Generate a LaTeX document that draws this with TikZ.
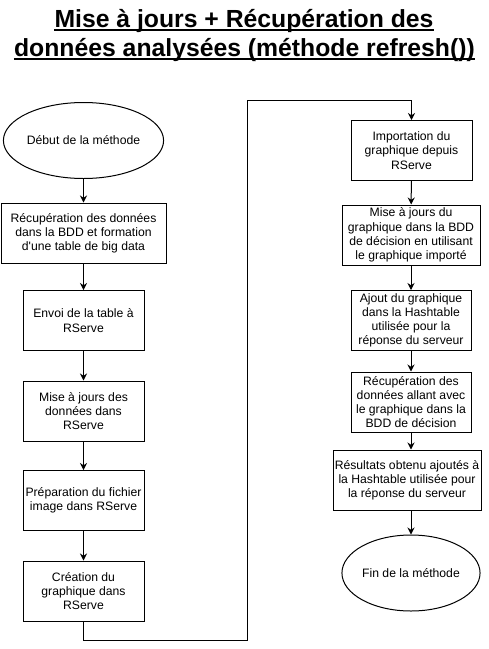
\documentclass[tikz,border=0pt]{standalone}
\usepackage{fontspec}
\setmainfont{Liberation Sans}
\usetikzlibrary{arrows.meta,shapes.geometric}
\begin{document}
\begin{tikzpicture}[x=1pt,y=-1pt,
  box/.style={draw,line width=1pt,minimum width=#1,minimum height=60pt,inner sep=1pt,align=center,font=\fontsize{12.2}{14.2}\selectfont},
  oval/.style={draw,line width=1pt,ellipse,minimum width=121pt,minimum height=76pt,inner sep=0pt,align=center,font=\fontsize{12.2}{14.2}\selectfont},
  flow/.style={draw,line width=1pt,-{Stealth[length=7pt,width=7pt]}},
  titletext/.style={inner sep=0pt,anchor=base,font=\fontsize{24.75}{30}\selectfont\bfseries},
  uline/.style={line width=2pt}]
\fill[white] (0,0) rectangle (489,649);
\useasboundingbox (0,0) rectangle (489,649);
% title
\node[titletext] (t1) at (244,27) {Mise à jours + Récupération des};
\node[titletext] (t2) at (244.5,56) {données analysées (méthode refresh())};
\draw[uline] ([yshift=-3pt]t1.base west) -- ([yshift=-3pt]t1.base east);
\draw[uline] ([yshift=-3pt]t2.base west) -- ([yshift=-3pt]t2.base east);
% left column
\node[oval] (start) at (83.5,140.5) {Début de la méthode};
\node[box=165pt] (b1) at (83.5,233) {Récupération des données\\dans la BDD et formation\\d\textquotesingle une table de big data};
\node[box=121pt] (b2) at (83.5,320.5) {Envoi de la table à\\RServe};
\node[box=121pt] (b3) at (83.5,411) {Mise à jours des\\données dans\\RServe};
\node[box=121pt] (b4) at (83.5,500.5) {Préparation du fichier\\image dans RServe};
\node[box=121pt] (b5) at (83.5,591) {Création du\\graphique dans\\RServe};
% right column
\node[box=121pt] (b6) at (411.5,150.5) {Importation du\\graphique depuis\\RServe};
\node[box=138pt] (b7) at (411,235) {Mise à jours du\\graphique dans la BDD\\de décision en utilisant\\le graphique importé};
\node[box=120pt] (b8) at (411,320.5) {Ajout du graphique\\dans la Hashtable\\utilisée pour la\\réponse du serveur};
\node[box=120pt] (b9) at (411,402) {Récupération des\\données allant avec\\le graphique dans la\\BDD de décision};
\node[box=148pt] (b10) at (407,480) {Résultats obtenu ajoutés à\\la Hashtable utilisée pour\\la réponse du serveur};
\node[oval] (end) at (411,573) {Fin de la méthode};
% connectors
\coordinate (c1) at (247,640);
\coordinate (c2) at (247,100);
\draw[flow] (start) -- (b1);
\draw[flow] (b1) -- (b2);
\draw[flow] (b2) -- (b3);
\draw[flow] (b3) -- (b4);
\draw[flow] (b4) -- (b5);
\draw[flow] (b5.south) |- (c1) -- (c2) -| (b6.north);
\draw[flow] (b6) -- (b7);
\draw[flow] (b7) -- (b8);
\draw[flow] (b8) -- (b9);
\draw[flow] (b9.south) -- (b9.south |- b10.north);
\draw[flow] (b9.south |- b10.south) -- (end);
\end{tikzpicture}
\end{document}
